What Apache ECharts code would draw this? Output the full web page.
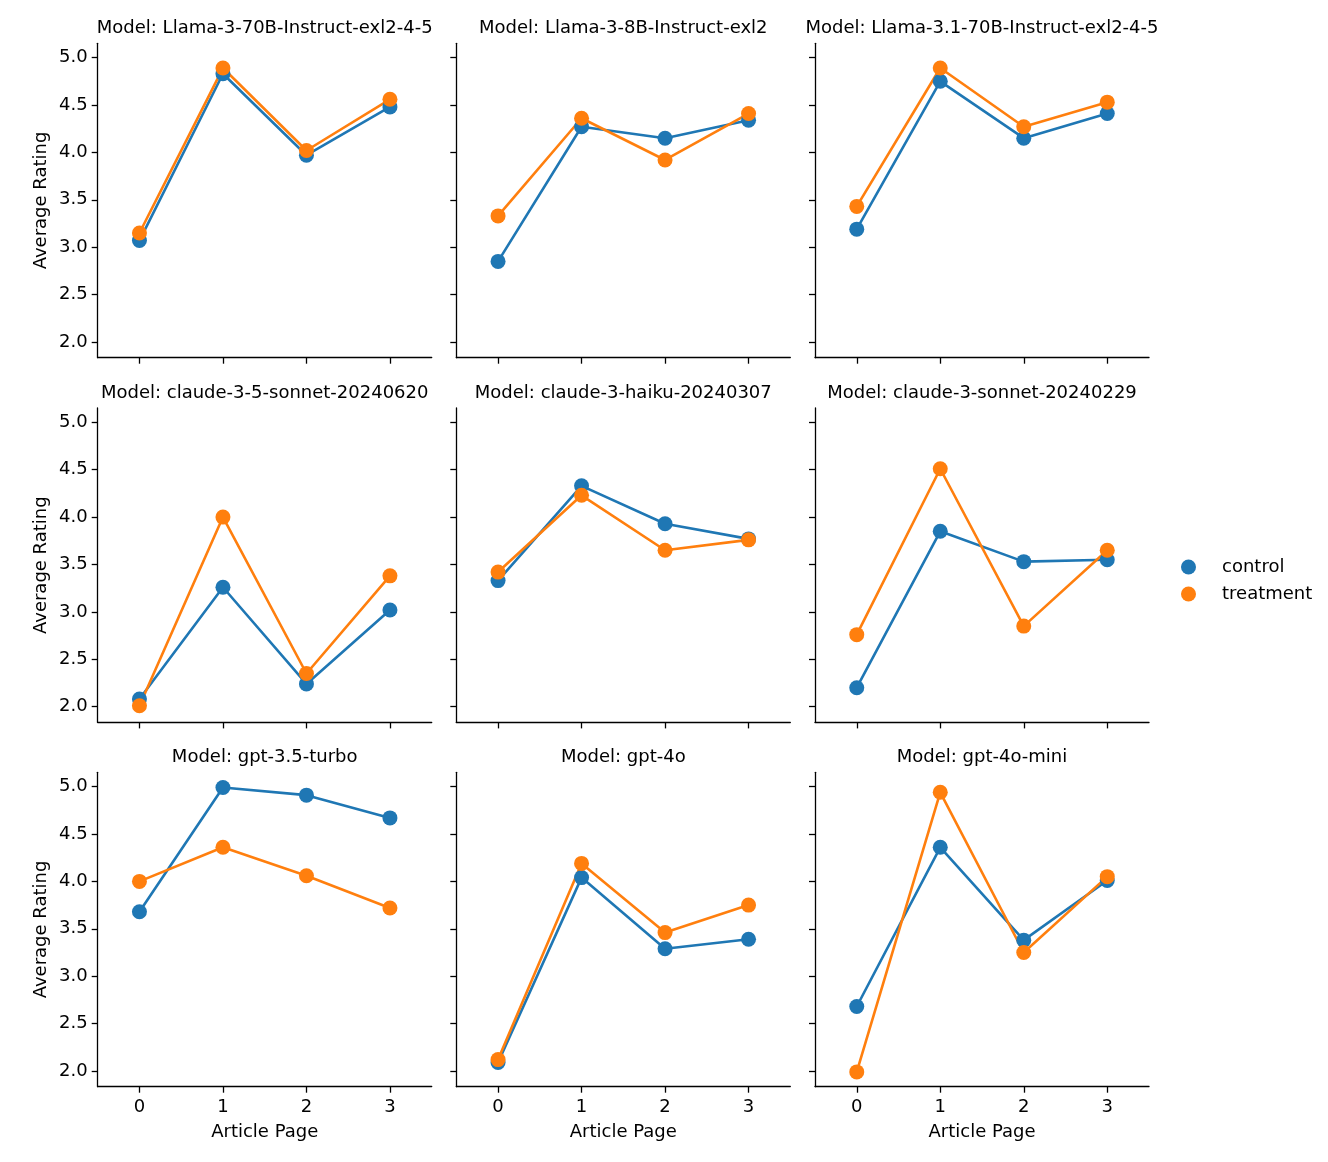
<!DOCTYPE html>
<html>
<head>
<meta charset="utf-8">
<script src="https://cdn.jsdelivr.net/npm/echarts@6/dist/echarts.min.js"></script>
<style>
html,body{margin:0;padding:0;background:#fff;}
#chart{width:1328px;height:1162px;}
</style>
</head>
<body>
<div id="chart"></div>
<script>
const models = [
  'Llama-3-70B-Instruct-exl2-4-5', 'Llama-3-8B-Instruct-exl2', 'Llama-3.1-70B-Instruct-exl2-4-5',
  'claude-3-5-sonnet-20240620', 'claude-3-haiku-20240307', 'claude-3-sonnet-20240229',
  'gpt-3.5-turbo', 'gpt-4o', 'gpt-4o-mini'
];
const pages = ['0', '1', '2', '3'];
const yTicks = [2.0, 2.5, 3.0, 3.5, 4.0, 4.5, 5.0];
const controlRatings = [
  [3.07, 4.83, 3.97, 4.48],
  [2.85, 4.27, 4.15, 4.34],
  [3.19, 4.75, 4.15, 4.41],
  [2.08, 3.26, 2.24, 3.02],
  [3.33, 4.33, 3.93, 3.77],
  [2.20, 3.85, 3.53, 3.55],
  [3.68, 4.99, 4.91, 4.67],
  [2.09, 4.04, 3.29, 3.39],
  [2.68, 4.36, 3.38, 4.01]
];
const treatmentRatings = [
  [3.15, 4.89, 4.02, 4.56],
  [3.33, 4.36, 3.92, 4.41],
  [3.43, 4.89, 4.27, 4.53],
  [2.01, 4.00, 2.35, 3.38],
  [3.42, 4.23, 3.65, 3.76],
  [2.76, 4.51, 2.85, 3.65],
  [4.00, 4.36, 4.06, 3.72],
  [2.12, 4.19, 3.46, 3.75],
  [1.99, 4.94, 3.25, 4.05]
];

const BLUE = '#1f77b4', ORANGE = '#ff7f0e';
const FONT = 'DejaVu Sans';
const FS = 18;
const lefts = [97.7, 456.3, 815];
const tops = [43.3, 408, 772.3];
const W = 334, H = 314.4;
const yMin = 1.834, yMax = 5.151;

const grids = [], xAxes = [], yAxes = [], series = [], titles = [];
models.forEach((m, i) => {
  const r = Math.floor(i / 3), c = i % 3;
  grids.push({left: lefts[c], top: tops[r], width: W, height: H, containLabel: false});
  titles.push({
    text: 'Model: ' + m,
    left: lefts[c] + W / 2,
    top: tops[r] - 25,
    textAlign: 'center',
    padding: 0,
    textStyle: {fontFamily: FONT, fontSize: FS, fontWeight: 'normal', color: '#000', lineHeight: 20}
  });
  const lineStyle = {color: '#000', width: 1.3};
  xAxes.push({
    type: 'category', gridIndex: i, data: pages, boundaryGap: true,
    axisLine: {show: true, lineStyle},
    axisTick: {show: true, alignWithLabel: true, interval: 0, length: 6, lineStyle},
    axisLabel: {show: r === 2, interval: 0, margin: 12, color: '#000', fontFamily: FONT, fontSize: FS},
    splitLine: {show: false},
    name: r === 2 ? 'Article Page' : '',
    nameLocation: 'middle', nameGap: 37,
    nameTextStyle: {color: '#000', fontFamily: FONT, fontSize: FS}
  });
  yAxes.push({
    type: 'value', gridIndex: i, min: yMin, max: yMax,
    axisLine: {show: true, lineStyle},
    axisTick: {show: true, length: 6, lineStyle, customValues: yTicks},
    axisLabel: {show: c === 0, margin: 10, color: '#000', fontFamily: FONT, fontSize: FS,
      customValues: yTicks, formatter: v => v.toFixed(1)},
    splitLine: {show: false},
    name: c === 0 ? 'Average Rating' : '',
    nameLocation: 'middle', nameGap: 47,
    nameTextStyle: {color: '#000', fontFamily: FONT, fontSize: FS}
  });
  [['control', controlRatings[i], BLUE], ['treatment', treatmentRatings[i], ORANGE]].forEach(([name, vals, col]) => {
    series.push({
      name, type: 'line', xAxisIndex: i, yAxisIndex: i, data: vals,
      symbol: 'circle', symbolSize: 15, showSymbol: true,
      lineStyle: {color: col, width: 2.6},
      itemStyle: {color: col},
      emphasis: {disabled: true},
      animation: false
    });
  });
});

const chart = echarts.init(document.getElementById('chart'));
chart.setOption({
  backgroundColor: '#fff',
  animation: false,
  title: titles,
  grid: grids,
  xAxis: xAxes,
  yAxis: yAxes,
  legend: {
    data: ['control', 'treatment'],
    orient: 'vertical', left: 1181, top: 558, padding: 0,
    icon: 'circle', itemWidth: 15, itemHeight: 15, itemGap: 9,
    textStyle: {fontFamily: FONT, fontSize: FS, color: '#000', padding: [0, 0, 0, 21]}
  },
  series
});
</script>
</body>
</html>
